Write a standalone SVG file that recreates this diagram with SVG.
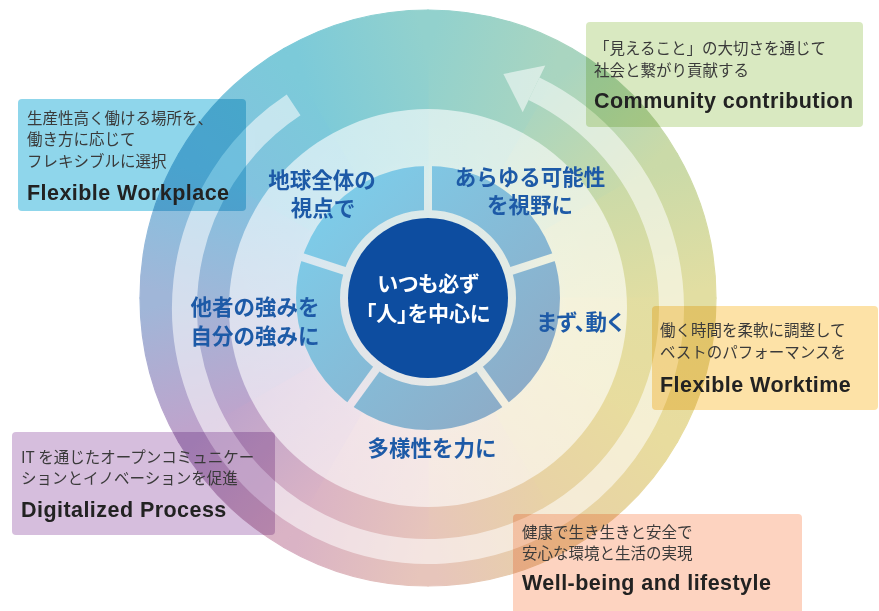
<svg xmlns="http://www.w3.org/2000/svg" width="879" height="611" viewBox="0 0 879 611">
<style>
.seg{font-family:"Noto Sans CJK JP","Noto Sans",sans-serif;font-size:21.5px;font-weight:bold;fill:#1d5aa7;text-anchor:middle}
.ctr{font-family:"Noto Sans CJK JP","Noto Sans",sans-serif;font-size:21px;font-weight:bold;fill:#fff;text-anchor:middle;font-feature-settings:"palt"}
.jp{font-family:"Noto Sans CJK JP","Noto Sans",sans-serif;font-size:15.5px;fill:#3a3a3a}
.ttl{font-family:"Liberation Sans",Arial,sans-serif;font-size:21.5px;font-weight:bold;fill:#222;letter-spacing:0.45px}
.box{mix-blend-mode:multiply}
</style>
<defs>
<linearGradient id="g0" gradientUnits="userSpaceOnUse" x1="428" y1="53" x2="550.5" y2="85.8"><stop offset="0" stop-color="#92d1cd"/><stop offset="1" stop-color="#a9d5c0"/></linearGradient>
<linearGradient id="g1" gradientUnits="userSpaceOnUse" x1="550.5" y1="85.8" x2="640.2" y2="175.5"><stop offset="0" stop-color="#a9d5c0"/><stop offset="1" stop-color="#cadaa8"/></linearGradient>
<linearGradient id="g2" gradientUnits="userSpaceOnUse" x1="640.2" y1="175.5" x2="673" y2="298"><stop offset="0" stop-color="#cadaa8"/><stop offset="1" stop-color="#e2dea2"/></linearGradient>
<linearGradient id="g3" gradientUnits="userSpaceOnUse" x1="673" y1="298" x2="640.2" y2="420.5"><stop offset="0" stop-color="#e2dea2"/><stop offset="1" stop-color="#e8dc9e"/></linearGradient>
<linearGradient id="g4" gradientUnits="userSpaceOnUse" x1="640.2" y1="420.5" x2="550.5" y2="510.2"><stop offset="0" stop-color="#e8dc9e"/><stop offset="1" stop-color="#e8d2a6"/></linearGradient>
<linearGradient id="g5" gradientUnits="userSpaceOnUse" x1="550.5" y1="510.2" x2="428" y2="543"><stop offset="0" stop-color="#e8d2a6"/><stop offset="1" stop-color="#e7c5bb"/></linearGradient>
<linearGradient id="g6" gradientUnits="userSpaceOnUse" x1="428" y1="543" x2="305.5" y2="510.2"><stop offset="0" stop-color="#e7c5bb"/><stop offset="1" stop-color="#dab3c5"/></linearGradient>
<linearGradient id="g7" gradientUnits="userSpaceOnUse" x1="305.5" y1="510.2" x2="215.8" y2="420.5"><stop offset="0" stop-color="#dab3c5"/><stop offset="1" stop-color="#bea4cc"/></linearGradient>
<linearGradient id="g8" gradientUnits="userSpaceOnUse" x1="215.8" y1="420.5" x2="183" y2="298"><stop offset="0" stop-color="#bea4cc"/><stop offset="1" stop-color="#a0b6d8"/></linearGradient>
<linearGradient id="g9" gradientUnits="userSpaceOnUse" x1="183" y1="298" x2="215.8" y2="175.5"><stop offset="0" stop-color="#a0b6d8"/><stop offset="1" stop-color="#82c2e0"/></linearGradient>
<linearGradient id="g10" gradientUnits="userSpaceOnUse" x1="215.8" y1="175.5" x2="305.5" y2="85.8"><stop offset="0" stop-color="#82c2e0"/><stop offset="1" stop-color="#7ccad9"/></linearGradient>
<linearGradient id="g11" gradientUnits="userSpaceOnUse" x1="305.5" y1="85.8" x2="428" y2="53"><stop offset="0" stop-color="#7ccad9"/><stop offset="1" stop-color="#92d1cd"/></linearGradient>
<radialGradient id="discGrad" gradientUnits="userSpaceOnUse" cx="428" cy="298" r="210">
<stop offset="0" stop-color="#e2eaea" stop-opacity="0.92"/>
<stop offset="0.43" stop-color="#e6eded" stop-opacity="0.88"/>
<stop offset="0.66" stop-color="#fff" stop-opacity="0.62"/>
<stop offset="1" stop-color="#fff" stop-opacity="0.6"/>
</radialGradient>
<linearGradient id="segGrad" gradientUnits="userSpaceOnUse" x1="330" y1="200" x2="530" y2="400"><stop offset="0" stop-color="#7dcce9"/><stop offset="1" stop-color="#8eabc6"/></linearGradient>
<mask id="gapMask" maskUnits="userSpaceOnUse" x="0" y="0" width="879" height="611">
<rect width="879" height="611" fill="#fff"/>
<g stroke="#000" stroke-width="8">
<line x1="428" y1="298" x2="428" y2="150"/>
<line x1="428" y1="298" x2="570.7" y2="251.6"/>
<line x1="428" y1="298" x2="516.2" y2="419.4"/>
<line x1="428" y1="298" x2="339.8" y2="419.4"/>
<line x1="428" y1="298" x2="285.3" y2="251.6"/>
</g>
</mask>
</defs>

<g id="ring">
<path d="M428,298 L428,10 A288,288 0 0 1 572,48.6 Z" fill="url(#g0)" stroke="url(#g0)" stroke-width="1.2"/>
<path d="M428,298 L572,48.6 A288,288 0 0 1 677.4,154 Z" fill="url(#g1)" stroke="url(#g1)" stroke-width="1.2"/>
<path d="M428,298 L677.4,154 A288,288 0 0 1 716,298 Z" fill="url(#g2)" stroke="url(#g2)" stroke-width="1.2"/>
<path d="M428,298 L716,298 A288,288 0 0 1 677.4,442 Z" fill="url(#g3)" stroke="url(#g3)" stroke-width="1.2"/>
<path d="M428,298 L677.4,442 A288,288 0 0 1 572,547.4 Z" fill="url(#g4)" stroke="url(#g4)" stroke-width="1.2"/>
<path d="M428,298 L572,547.4 A288,288 0 0 1 428,586 Z" fill="url(#g5)" stroke="url(#g5)" stroke-width="1.2"/>
<path d="M428,298 L428,586 A288,288 0 0 1 284,547.4 Z" fill="url(#g6)" stroke="url(#g6)" stroke-width="1.2"/>
<path d="M428,298 L284,547.4 A288,288 0 0 1 178.6,442 Z" fill="url(#g7)" stroke="url(#g7)" stroke-width="1.2"/>
<path d="M428,298 L178.6,442 A288,288 0 0 1 140,298 Z" fill="url(#g8)" stroke="url(#g8)" stroke-width="1.2"/>
<path d="M428,298 L140,298 A288,288 0 0 1 178.6,154 Z" fill="url(#g9)" stroke="url(#g9)" stroke-width="1.2"/>
<path d="M428,298 L178.6,154 A288,288 0 0 1 284,48.6 Z" fill="url(#g10)" stroke="url(#g10)" stroke-width="1.2"/>
<path d="M428,298 L284,48.6 A288,288 0 0 1 428,10 Z" fill="url(#g11)" stroke="url(#g11)" stroke-width="1.2"/>
<circle cx="428" cy="308" r="199" fill="url(#discGrad)"/>
</g>

<g id="connectors" opacity="0.55">
<path d="M293.6,104.9 A243.5,243.5 0 1 0 534,88.8" fill="none" stroke="#fff" stroke-width="25"/>
<polygon points="545.3,65.4 522.7,112.2 503.4,74" fill="#fff"/>
</g>

<g id="segments">
<circle cx="428" cy="298" r="110" fill="none" stroke="url(#segGrad)" stroke-width="44" mask="url(#gapMask)"/>
<text class="seg" x="322" y="188">地球全体の</text>
<text class="seg" x="323" y="216">視点で</text>
<text class="seg" x="530" y="185">あらゆる可能性</text>
<text class="seg" x="530" y="213">を視野に</text>
<text class="seg" x="580" y="330" style="font-feature-settings:'palt'">まず、動く</text>
<text class="seg" x="432" y="456">多様性を力に</text>
<text class="seg" x="255" y="315">他者の強みを</text>
<text class="seg" x="255" y="344">自分の強みに</text>
</g>

<g id="center">
<circle cx="428" cy="298" r="80" fill="#0d4da0"/>
<text class="ctr" x="428" y="291">いつも必ず</text>
<text class="ctr" x="428" y="321">「人」を中心に</text>
</g>

<g id="box-workplace">
<rect class="box" x="18" y="99" width="228" height="112" rx="4" fill="#8fd6eb"/>
<text class="jp" x="27" y="124">生産性高く働ける場所を、</text>
<text class="jp" x="27" y="145">働き方に応じて</text>
<text class="jp" x="27" y="167">フレキシブルに選択</text>
<text class="ttl" x="27" y="200">Flexible Workplace</text>
</g>

<g id="box-community">
<rect class="box" x="586" y="22" width="277" height="105" rx="4" fill="#d9e9c1"/>
<text class="jp" x="594" y="54">「見えること」の大切さを通じて</text>
<text class="jp" x="594" y="76">社会と繋がり貢献する</text>
<text class="ttl" x="594" y="108">Community contribution</text>
</g>

<g id="box-worktime">
<rect class="box" x="652" y="306" width="226" height="104" rx="4" fill="#fde2a7"/>
<text class="jp" x="660" y="336">働く時間を柔軟に調整して</text>
<text class="jp" x="660" y="358">ベストのパフォーマンスを</text>
<text class="ttl" x="660" y="392">Flexible Worktime</text>
</g>

<g id="box-wellbeing">
<rect class="box" x="513" y="514" width="289" height="102" rx="4" fill="#fdd3c0"/>
<text class="jp" x="522" y="538">健康で生き生きと安全で</text>
<text class="jp" x="522" y="559">安心な環境と生活の実現</text>
<text class="ttl" x="522" y="590">Well-being and lifestyle</text>
</g>

<g id="box-digital">
<rect class="box" x="12" y="432" width="263" height="103" rx="4" fill="#d6bedd"/>
<text class="jp" x="21" y="463">IT を通じたオープンコミュニケー</text>
<text class="jp" x="21" y="484">ションとイノベーションを促進</text>
<text class="ttl" x="21" y="517">Digitalized Process</text>
</g>
</svg>
